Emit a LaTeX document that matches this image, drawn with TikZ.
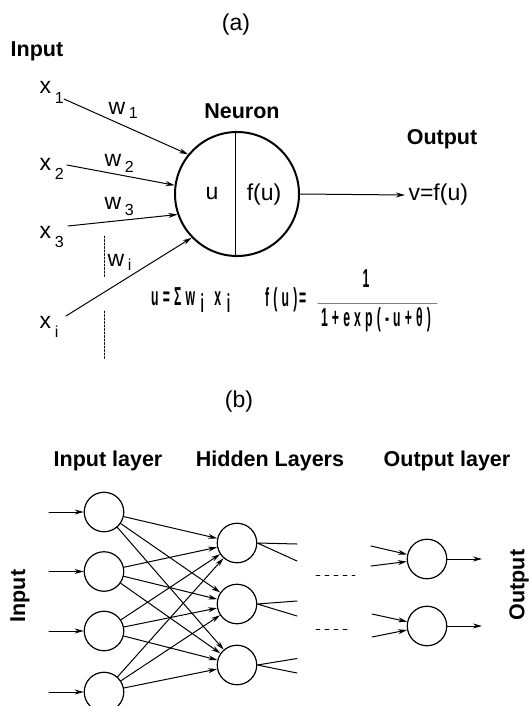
\documentclass[tikz,border=0pt]{standalone}
\usepackage{fontspec}
\setmainfont{Liberation Sans}
\newfontfamily\eqfont[LetterSpace=34]{Liberation Sans}
\usetikzlibrary{arrows.meta}
\newcommand\lowsub[2][0.4em]{\,\raisebox{-#1}{\fontsize{16}{16}\selectfont #2}}
\newcommand\narrowtxt[1]{\scalebox{0.47}[1]{\eqfont\bfseries #1}}
\begin{document}
\begin{tikzpicture}[x=1pt,y=-1pt,>={Stealth[length=9pt,width=5pt]},line join=round,line cap=round,
    font=\fontsize{23}{26}\selectfont,
    lbl/.style={font=\fontsize{21.5}{24}\selectfont\bfseries},
    unit/.style={circle,draw,line width=1.2pt,minimum size=39.5pt,inner sep=0pt},
    link/.style={->,line width=1pt},
    frm/.style={font=\fontsize{26}{28}\selectfont,inner sep=0pt}]
  \useasboundingbox (0,0) rectangle (529,706);
  \node (capa) at (236,25) {(a)};
  \node[lbl] (inlbl) at (37,51) {Input};
  \node[lbl] (neulbl) at (242,111) {Neuron};
  \node[lbl] (outlbl) at (442,139) {Output};
  \node (neuron) at (237,194) [circle,draw,line width=2pt,minimum size=124pt,inner sep=0pt] {};
  \draw[line width=1pt] ([xshift=-2pt]neuron.north) -- ([xshift=-2pt]neuron.south);
  \node (nu) at (212,194) {u};
  \node (nf) at (264,195) {f(u)};
  \node (vout) at (405,195) [anchor=west] {v=f(u)};
  \draw[link] (neuron.east) -- (vout.west);
  \node[anchor=base west] (x1) at (36,94) {x\lowsub{1}};
  \node[anchor=base west] (x2) at (36,170) {x\lowsub{2}};
  \node[anchor=base west] (x3) at (36,238) {x\lowsub{3}};
  \node[anchor=base west] (xi) at (36,328) {x\lowsub{i}};
  \node[anchor=base west] (w1) at (105,114) {w\lowsub[0.2em]{1}};
  \node[anchor=base west] (w2) at (101,166) {w\lowsub[0.3em]{2}};
  \node[anchor=base west] (w3) at (101,209) {w\lowsub[0.3em]{3}};
  \node[anchor=base west] (wi) at (104,266) {w\lowsub[0.2em]{i}};
  \coordinate (s1) at (64,99);
  \coordinate (s2) at (67,165);
  \coordinate (s3) at (68,226);
  \coordinate (si) at (66,316);
  \draw[link] (s1) -- (neuron.141);
  \draw[link] (s2) -- (neuron.172);
  \draw[link] (s3) -- (neuron.199);
  \draw[link] (si) -- (neuron.224);
  \draw[line width=0.7pt,dash pattern=on 2pt off 1.5pt] (104,236) -- (104,278) (104,311) -- (104,359);
  \node[frm,anchor=west] (sumu) at (151,300) {\narrowtxt{u=Σw\hspace{12pt}\raisebox{-7pt}{i}\hspace{22pt}x\hspace{12pt}\raisebox{-7pt}{i}}};
  \node[frm,anchor=west] (fu) at (265,300) {\narrowtxt{f(u)\hspace{4pt}=}};
  \node[frm] (numer) at (366,279) {\narrowtxt{1}};
  \node[frm] (denom) at (376,320) {\narrowtxt{1+exp(-u+θ)}};
  \draw[line width=0.5pt,gray] ([xshift=-3pt,yshift=4pt]denom.north west) -- ([xshift=6pt,yshift=4pt]denom.north east);
  % (b) layered network
  \node (capb) at (239,402) {(b)};
  \node[lbl] (inlay) at (108,461) {Input layer};
  \node[lbl] (hidlay) at (270,461) {Hidden Layers};
  \node[lbl] (outlay) at (447,461) {Output layer};
  \node[lbl,rotate=90] (inrot) at (20,596) {Input};
  \node[lbl,rotate=90] (outrot) at (519,585) {Output};
  \foreach \i/\y in {1/512,2/571.5,3/631,4/692} {
    \node[unit] (in\i) at (104,\y) {};
    \coordinate (src\i) at (49,\y);
    \draw[link] (src\i) -- (in\i);
  }
  \foreach \j/\y in {1/543,2/604,3/665}
    \node[unit] (h\j) at (237,\y) {};
  \foreach \i in {1,...,4}
    \foreach \j in {1,2,3}
      \draw[link] (in\i) -- (h\j);
  \foreach \j/\ya/\yb in {1/544/561,2/601/616,3/658.5/673} {
    \coordinate (ta\j) at (297,\ya);
    \coordinate (tb\j) at (297,\yb);
    \draw[line width=1pt] (h\j.east) -- (ta\j) (h\j.east) -- (tb\j);
  }
  \coordinate (da) at (316,575.5); \coordinate (db) at (355,575.5);
  \coordinate (dc) at (316,629); \coordinate (dd) at (349,629);
  \draw[line width=0.8pt,dash pattern=on 4pt off 5pt] (da) -- (db) (dc) -- (dd);
  \node[unit] (o1) at (427,559) {};
  \node[unit] (o2) at (427,626) {};
  \coordinate (ia1) at (371,546); \coordinate (ib1) at (371,566);
  \coordinate (ia2) at (372,614); \coordinate (ib2) at (372,637);
  \coordinate (e1) at (482,559); \coordinate (e2) at (482,626);
  \foreach \k in {1,2} {
    \draw[link] (ia\k) -- (o\k);
    \draw[link] (ib\k) -- (o\k);
    \draw[link] (o\k) -- (e\k);
  }
\end{tikzpicture}
\end{document}
